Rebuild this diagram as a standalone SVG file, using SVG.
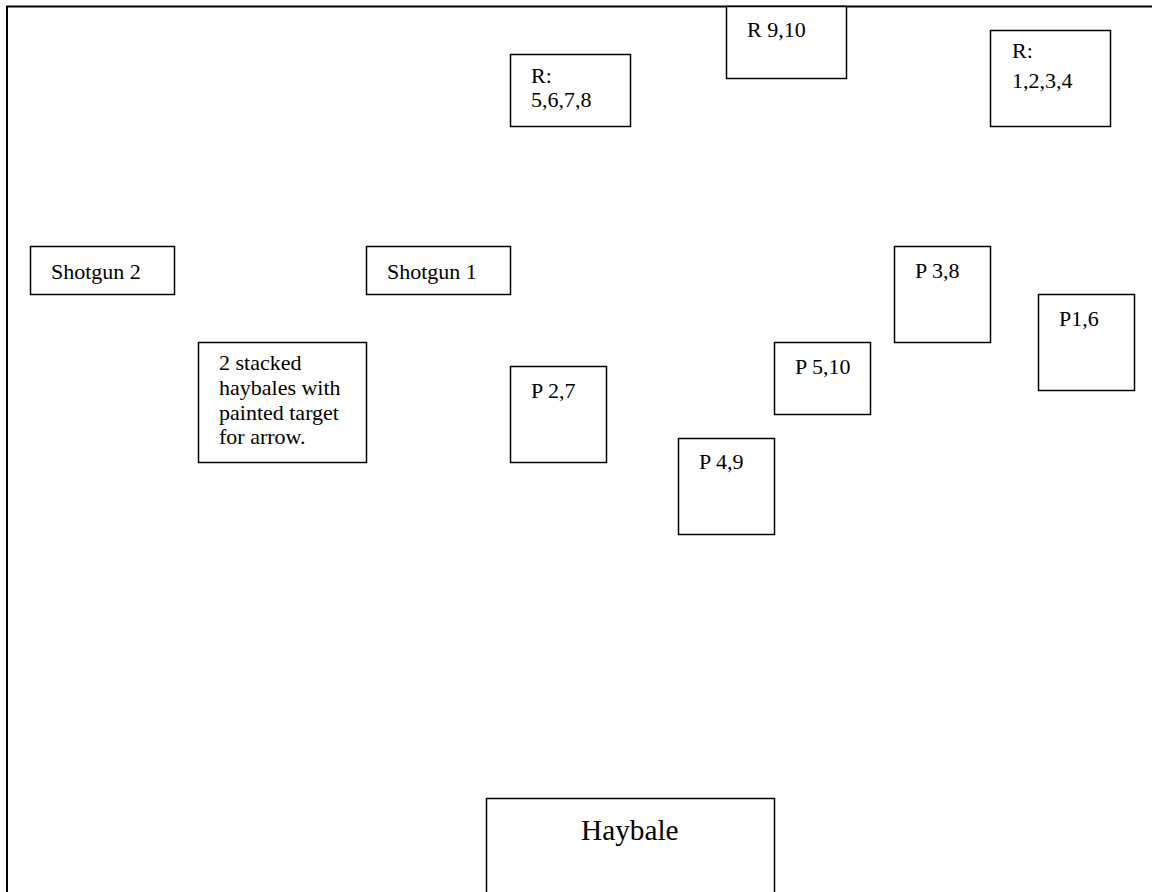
<svg xmlns="http://www.w3.org/2000/svg" width="1152" height="892" viewBox="0 0 1152 892">
<style>
.box{fill:#fff;stroke:#000;stroke-width:1.5}
text{font-family:'Liberation Serif','DejaVu Serif',serif;fill:#000}
.t{font-size:22px}
.big{font-size:29.3px}
.frame{fill:none;stroke:#000;stroke-width:2}
</style>
<rect width="1152" height="892" fill="#fff"/>
<path class="frame" d="M7,892 V6.5 H1152"/>
<g font-family="Liberation Serif, DejaVu Serif, serif">
<g id="r910"><rect class="box" x="726.5" y="6.5" width="120" height="72"/><text class="t" x="747" y="37">R 9,10</text></g>
<g id="r5678"><rect class="box" x="510.5" y="54.5" width="120" height="72"/><text class="t" x="531" y="83">R:</text><text class="t" x="531" y="107">5,6,7,8</text></g>
<g id="r1234"><rect class="box" x="990.5" y="30.5" width="120" height="96"/><text class="t" x="1012" y="58">R:</text><text class="t" x="1012" y="88">1,2,3,4</text></g>
<g id="shotgun2"><rect class="box" x="30.5" y="246.5" width="144" height="48"/><text class="t" x="51" y="279">Shotgun 2</text></g>
<g id="shotgun1"><rect class="box" x="366.5" y="246.5" width="144" height="48"/><text class="t" x="387" y="279">Shotgun 1</text></g>
<g id="target"><rect class="box" x="198.5" y="342.5" width="168" height="120"/><text class="t" x="219" y="370">2 stacked</text><text class="t" x="219" y="395">haybales with</text><text class="t" x="219" y="420">painted target</text><text class="t" x="219" y="444">for arrow.</text></g>
<g id="p27"><rect class="box" x="510.5" y="366.5" width="96" height="96"/><text class="t" x="531" y="398">P 2,7</text></g>
<g id="p49"><rect class="box" x="678.5" y="438.5" width="96" height="96"/><text class="t" x="699" y="469">P 4,9</text></g>
<g id="p510"><rect class="box" x="774.5" y="342.5" width="96" height="72"/><text class="t" x="795" y="374">P 5,10</text></g>
<g id="p38"><rect class="box" x="894.5" y="246.5" width="96" height="96"/><text class="t" x="915" y="278">P 3,8</text></g>
<g id="p16"><rect class="box" x="1038.5" y="294.5" width="96" height="96"/><text class="t" x="1059" y="326">P1,6</text></g>
<g id="haybale"><rect class="box" x="486.5" y="798.5" width="288" height="120"/><text class="big" x="581" y="840">Haybale</text></g>
</g>
<g id="connectors"/>
</svg>
